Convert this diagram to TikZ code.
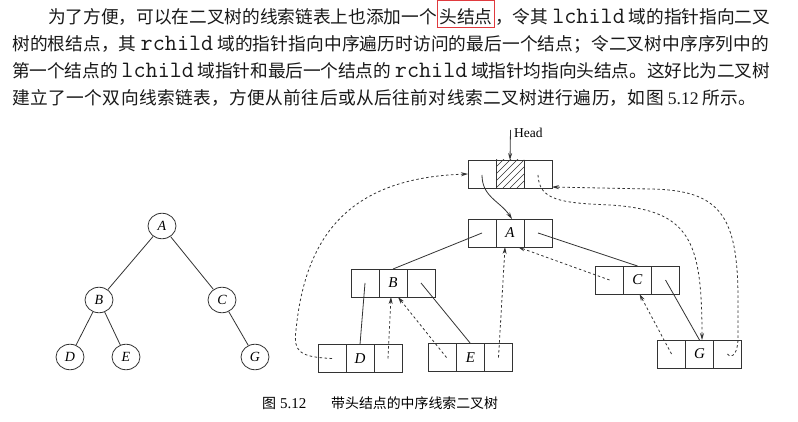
\documentclass[tikz,border=0pt]{standalone}
\usepackage{fontspec}
\setmainfont{Liberation Serif}
\newfontfamily\cjk{Noto Sans CJK SC}
\usetikzlibrary{arrows.meta,calc,shapes.geometric}
% stretchable and shrinkable glue between CJK characters
\XeTeXlinebreaklocale "zh"
\XeTeXlinebreakskip=0pt plus 4pt minus 1pt
\newcommand\code[1]{\hspace{4pt plus 2pt minus 2pt}{\fontsize{23.5}{24}\ttfamily #1}\hspace{4pt plus 2pt minus 2pt}}
\newcommand\numtxt[1]{{\rmfamily #1}}
% one fully justified line of text
\newcommand\fullline[1]{\parindent=0pt\parfillskip=0pt\relax #1\par}
\definecolor{ink}{HTML}{333333}
\definecolor{boxred}{HTML}{E03A3E}
% red frame around a highlighted term
\newcommand\hilite[1]{{\setlength\fboxsep{0pt}\setlength\fboxrule{1.1pt}%
  \fcolorbox{boxred}{white}{\rule[-3.5pt]{0pt}{26pt}\hspace{1.5pt}#1\hspace{1.5pt}}}}
% a three-field record: left pointer, data, right pointer
\newcommand\recnode[4]{%
  \node[cell] (#1m) at (#2,#3) {\textit{#4}};
  \node[cell,anchor=east] (#1l) at (#1m.west) {};
  \node[cell,anchor=west] (#1r) at (#1m.east) {};
}
\begin{document}
\begin{tikzpicture}[x=1pt,y=-1pt,
  line/.style={draw=ink,line width=0.8pt},
  cell/.style={draw=ink,line width=0.9pt,minimum width=28pt,minimum height=28pt,
    inner sep=0pt,outer sep=0pt,font=\fontsize{15}{16}\selectfont},
  tnode/.style={draw=ink,line width=0.8pt,ellipse,minimum width=28pt,minimum height=25.5pt,
    inner sep=0pt,font=\fontsize{14}{15}\selectfont\itshape},
  tip/.style={-{Stealth[length=7pt,width=4pt]}},
  thread/.style={line,dash pattern=on 2.5pt off 2.5pt,tip},
  para/.style={anchor=base west,inner sep=0pt,font=\fontsize{17.7}{20}\selectfont\cjk,text=black!90},
]
\useasboundingbox[fill=white] (0,0) rectangle (798,422);

% ---------- paragraph ----------
\node[para,text width=722pt] (line1) at (48,23.5) {\fullline{为了方便，可以在二叉树的线索链表上也添加一个\hilite{头结点}，令其\code{lchild}域的指针指向二叉}};
\node[para,text width=758pt] (line2) at (12,50.5) {\fullline{树的根结点，其\code{rchild}域的指针指向中序遍历时访问的最后一个结点；令二叉树中序序列中的}};
\node[para,text width=758pt] (line3) at (12,77.5) {\fullline{第一个结点的\code{lchild}域指针和最后一个结点的\code{rchild}域指针均指向头结点。这好比为二叉树}};
\node[para,text width=748pt] (line4) at (12,104.5) {\fullline{建立了一个双向线索链表，方便从前往后或从后往前对线索二叉树进行遍历，如图\hspace{4pt}\numtxt{5.12}\hspace{4pt}所示。}};

% ---------- binary tree ----------
\node[tnode] (tA) at (162,226) {A};
\node[tnode] (tB) at (99,300) {B};
\node[tnode] (tC) at (222,300) {C};
\node[tnode] (tD) at (70,357) {D};
\node[tnode] (tE) at (126,357) {E};
\node[tnode] (tG) at (255,357) {G};
\draw[line] (tA) -- (tB);
\draw[line] (tA) -- (tC);
\draw[line] (tB) -- (tD);
\draw[line] (tB) -- (tE);
\draw[line] (tC) -- (tG);

% ---------- threaded list ----------
\recnode{h}{510}{174}{}
\recnode{a}{510}{233}{A}
\recnode{b}{393}{283}{B}
\recnode{c}{637.5}{280}{C}
\recnode{d}{360}{358.5}{D}
\recnode{e}{470.5}{357.5}{E}
\recnode{g}{699.5}{354}{G}

% hatched data field of the head record
\begin{scope}
  \clip (hm.south west) rectangle (hm.north east);
  \foreach \k in {-35,-28,...,28}
    \draw[ink,line width=0.6pt] ($(hm.south west)+(\k,0)$) -- ++(40,-40);
\end{scope}
\node[cell,fill=none] (hbox) at (hm) {};

% head pointer
\coordinate (htop) at (510.5,130);
\draw[line,tip] (htop) -- (hm.north);
\node[anchor=base west,inner sep=0pt,font=\fontsize{13.5}{14}\selectfont] (hlabel) at (514,138) {Head};

% child links
\draw[line,tip] ($(hl.center)+(0,1)$) .. controls +(0,22) and +(-12,-18) .. ($(am.north)+(2,0)$);
\draw[line] (al.center) -- (bm.north);
\draw[line] (ar.center) -- (cm.north);
\draw[line] (bl.center) -- (dm.north);
\draw[line] (br.center) -- (em.north);
\draw[line] (cr.center) -- (gm.north);

% threads
\draw[thread] (dr.center) -- ($(bm.south)+(-2,0)$);
\draw[thread] ($(el.center)+(4,0)$) -- ($(bm.south)+(5,0)$);
\draw[thread] (er.center) -- ($(am.south)+(-5,0)$);
\draw[thread] (cl.center) -- ($(am.south)+(8,0)$);
\draw[thread] (gl.center) -- ($(cm.south)+(2,0)$);
\draw[thread] (dl.center) .. controls (300,357) and (293,352) .. (296,330)
  .. controls (305,240) and (345,178) .. (hl.west);
\draw[thread] ($(hr.center)+(0,1)$) .. controls (539,200) and (560,203) .. (610,205)
  .. controls (690,210) and (702,240) .. ($(gm.north)+(2.5,0)$);
\draw[thread] (gr.center) .. controls (729,358) and (737,358) .. (738,340) -- (738,300)
  .. controls (738,215) and (720,190) .. (650,189) -- ($(hr.south east)+(0,-1)$);

% ---------- caption ----------
\node[anchor=base west,inner sep=0pt,font=\fontsize{14}{16}\selectfont] (fignum) at (262,408) {{\cjk 图}\hspace{4pt}{\fontsize{15}{16}\selectfont 5.12}};
\node[anchor=base west,inner sep=0pt,font=\fontsize{13.9}{16}\selectfont\cjk] (figtitle) at (331,408) {带头结点的中序线索二叉树};
\end{tikzpicture}
\end{document}
